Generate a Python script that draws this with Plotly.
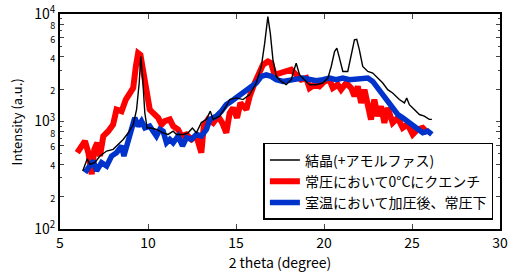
import plotly.graph_objects as go

# Crystal (+amorphous) - black
black_x = [6.29, 6.55, 6.70, 6.98, 7.27, 7.65, 8.02, 8.31, 8.59, 8.88, 9.16, 9.35, 9.50, 9.59, 9.69, 9.82, 9.95,
           10.2, 10.48, 10.86, 11.14, 11.43, 11.62, 12.0, 12.28, 12.52, 12.75, 13.03, 13.32, 13.54, 13.7, 14.07,
           14.45, 14.64, 15.02, 15.4, 15.78, 16.15, 16.44, 16.63, 16.81, 16.95, 17.1, 17.29, 17.57, 17.85, 18.14,
           18.27, 18.42, 18.61, 18.89, 19.18, 19.56, 19.93, 20.22, 20.41, 20.6, 20.73, 20.88, 21.07, 21.35, 21.54,
           21.73, 21.86, 22.01, 22.2, 22.49, 22.77, 23.05, 23.34, 23.62, 23.9, 24.28, 24.57, 24.7, 24.85, 25.13,
           25.42, 25.7, 25.98, 26.13]
black_y = [347, 451, 400, 414, 477, 531, 551, 613, 681, 785, 938, 1292, 2280, 4030, 2630, 1200, 870,
           870, 843, 785, 758, 813, 758, 758, 785, 870, 785, 977, 1047, 1248, 1047, 1122,
           1387, 1600, 1657, 1600, 1778, 2280, 3250, 5350, 9440, 6610, 3750, 2630, 2360, 2200, 2450,
           2920, 3490, 2720, 2450, 2200, 2200, 2280, 2535, 3250, 4480, 4810, 3890, 2920, 2920, 4030,
           5740, 5820, 4640, 3250, 2920, 2820, 2535, 2280, 1977, 1840, 1600, 1489, 1657, 1435, 1292,
           1161, 1122, 1047, 1047]

# Quenched at 0 C under ambient pressure - red
red_x = [5.98, 6.23, 6.42, 6.61, 6.8, 6.95, 7.12, 7.27, 7.46, 7.74, 8.02, 8.21, 8.5, 8.74, 8.97, 9.16, 9.31, 9.44,
         9.57, 9.73, 9.91, 10.1, 10.29, 10.58, 10.77, 10.95, 11.24, 11.43, 11.71, 11.9, 12.18, 12.47, 12.75, 12.94,
         13.03, 13.17, 13.41, 13.7, 13.98, 14.22, 14.45, 14.64, 14.83, 15.06, 15.25, 15.59, 15.78, 16.06, 16.34,
         16.53, 16.81, 17.0, 17.19, 17.48, 17.85, 18.14, 18.42, 18.7, 18.99, 19.18, 19.46, 19.74, 20.03, 20.31,
         20.5, 20.78, 20.97, 21.26, 21.54, 21.73, 21.92, 22.11, 22.3, 22.49, 22.67, 22.86, 23.05, 23.24, 23.43,
         23.62, 23.9, 24.19, 24.47, 24.75, 25.04, 25.32, 25.61, 25.89]
red_y = [513, 592, 658, 513, 323, 551, 634, 477, 731, 813, 938, 1292, 1248, 1600, 1840, 2050, 3250, 4330,
         4170, 2820, 1718, 1292, 1200, 1081, 938, 1007, 1044, 906, 843, 731, 758, 681, 731, 592,
         513, 906, 1044, 972, 1122, 972, 785, 1200, 1340, 1081, 1489, 1292, 1718, 2280, 2820,
         3370, 3620, 3490, 2720, 2820, 2920, 3030, 2720, 2450, 2535, 2050, 2200, 2120, 2360, 2450,
         2050, 2200, 1977, 2280, 2050, 1718, 2120, 1489, 1977, 1292, 1044, 1600, 1122, 1387, 972,
         1340, 972, 1081, 873, 938, 758, 843, 873, 785]

# Pressurized at room temperature, then ambient pressure - blue
blue_x = [6.42, 6.7, 6.89, 7.08, 7.36, 7.65, 7.93, 8.21, 8.5, 8.63, 8.88, 9.06, 9.25, 9.44, 9.63, 9.82, 10.1,
          10.29, 10.48, 10.67, 10.86, 11.05, 11.24, 11.43, 11.71, 11.96, 12.18, 12.47, 12.75, 13.03, 13.32, 13.51,
          13.88, 14.17, 14.45, 14.74, 15.02, 15.3, 15.59, 15.87, 16.15, 16.44, 16.72, 17.0, 17.29, 17.67, 18.04,
          18.42, 18.8, 19.18, 19.56, 19.93, 20.31, 20.69, 21.07, 21.45, 21.82, 22.2, 22.49, 22.77, 23.05, 23.34,
          23.62, 23.9, 24.19, 24.47, 24.75, 25.04, 25.32, 25.61, 25.89, 26.13]
blue_y = [335, 400, 430, 347, 414, 385, 477, 513, 592, 477, 681, 785, 1081, 906, 1007, 873, 906,
          813, 731, 843, 813, 634, 681, 634, 731, 592, 706, 681, 758, 731, 843, 1044,
          1122, 1248, 1435, 1542, 1657, 1778, 1910, 2050, 2280, 2630, 2720, 2630, 2450, 2360, 2450,
          2480, 2535, 2480, 2400, 2450, 2535, 2450, 2535, 2450, 2480, 2535, 2535, 2360, 2050, 1718,
          1489, 1292, 1161, 1081, 1007, 938, 873, 785, 813, 758]

names = ["結晶(+アモルファス)", "常圧において0°Cにクエンチ", "室温において加圧後、常圧下"]

x_ticks = [5, 10, 15, 20, 25, 30]
y_tickvals = []
y_ticktext = []
for dec in [100, 1000]:
    for m in [1, 2, 4, 6, 8]:
        y_tickvals.append(dec * m)
        if m == 1:
            y_ticktext.append("10<sup>%d</sup>" % (2 if dec == 100 else 3))
        else:
            y_ticktext.append("<span style='font-size:9px'>%d</span>" % m)
y_tickvals.append(10000)
y_ticktext.append("10<sup>4</sup>")
y_minor = [dec * m for dec in [100, 1000] for m in [3, 5, 7, 9]]

font = "Noto Sans CJK JP, Noto Sans, sans-serif"

fig = go.Figure()
fig.add_trace(go.Scatter(x=red_x, y=red_y, mode="lines", name=names[1],
                         line=dict(color="#ff0000", width=6)))
fig.add_trace(go.Scatter(x=blue_x, y=blue_y, mode="lines", name=names[2],
                         line=dict(color="#0033cc", width=5.5)))
fig.add_trace(go.Scatter(x=black_x, y=black_y, mode="lines", name=names[0],
                         line=dict(color="black", width=1.4)))

fig.update_layout(
    width=508, height=277,
    margin=dict(l=60, r=8, t=14, b=48, autoexpand=False),
    paper_bgcolor="white", plot_bgcolor="white",
    font=dict(family=font, size=14, color="black"),
    showlegend=True,
    legend=dict(x=0.985, y=0.042, xanchor="right", yanchor="bottom",
                bgcolor="white", bordercolor="black", borderwidth=1.5,
                font=dict(size=14), traceorder="normal",
                tracegroupgap=0, itemwidth=30),
    xaxis=dict(range=[5, 30], tickvals=x_ticks, ticks="inside", ticklen=5,
               showline=True, linecolor="black", linewidth=2, mirror="ticks",
               showgrid=False, zeroline=False, automargin=False,
               title=dict(text="2 theta (degree)", font=dict(size=14), standoff=2),
               tickfont=dict(size=14)),
    yaxis=dict(type="log", range=[2, 4], tickvals=y_tickvals, ticktext=y_ticktext,
               ticks="inside", ticklen=4, showline=True, linecolor="black", linewidth=2,
               mirror="ticks", showgrid=False, zeroline=False, automargin=False,
               minor=dict(tickvals=y_minor, ticks="inside", ticklen=2),
               tickfont=dict(size=14)),
    annotations=[dict(text="Intensity (a.u.)", xref="paper", yref="paper",
                      x=-0.098, y=0.5, xanchor="center", yanchor="middle",
                      textangle=-90, showarrow=False, font=dict(size=13))],
)

# legend order: black, red, blue
fig.data[2].legendrank = 1
fig.data[0].legendrank = 2
fig.data[1].legendrank = 3

fig.write_html("out.html", config={"displayModeBar": False},
               post_script="document.body.style.margin='0';")
